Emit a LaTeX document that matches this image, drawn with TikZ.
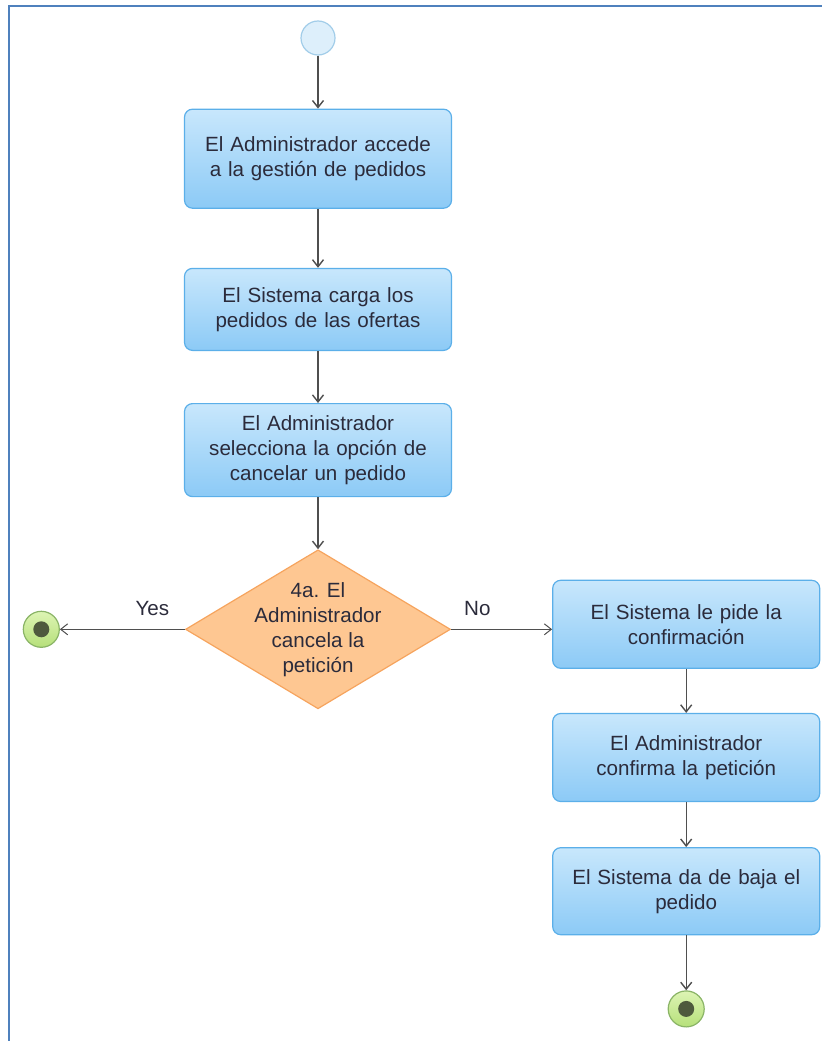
\documentclass[tikz,border=0pt]{standalone}
\usepackage{fontspec}
\setmainfont{Liberation Sans}
\usetikzlibrary{arrows.meta,positioning,shapes.geometric}

\definecolor{boxtop}{HTML}{C8E7FC}
\definecolor{boxbot}{HTML}{8CCAF6}
\definecolor{boxline}{HTML}{5BAFE9}
\definecolor{diafill}{HTML}{FEC792}
\definecolor{dialine}{HTML}{F6A45E}
\definecolor{startfill}{HTML}{DDEFFB}
\definecolor{startline}{HTML}{A2CDE9}
\definecolor{endtop}{HTML}{DDF4B4}
\definecolor{endbot}{HTML}{B6E07A}
\definecolor{endline}{HTML}{8AB466}
\definecolor{enddotc}{HTML}{4E5A3D}
\definecolor{flowgray}{HTML}{4F4F4F}
\definecolor{txt}{HTML}{2B2B3B}
\definecolor{frame}{HTML}{4F81BD}

\begin{document}
\begin{tikzpicture}[x=1pt, y=1pt,
      node distance=52pt and 101pt,
      txtfont/.style={font=\fontsize{20.6}{25}\selectfont, text=txt},
      box/.style={draw=boxline, line width=1.2pt, rounded corners=8pt,
                  top color=boxtop, bottom color=boxbot, align=center,
                  text width=245pt, inner xsep=11pt, txtfont},
      decision/.style={diamond, draw=dialine, fill=diafill, line width=1.2pt,
                  minimum width=265pt, minimum height=159pt, inner sep=0pt},
      startdot/.style={circle, draw=startline, fill=startfill, line width=1.2pt,
                  minimum size=34pt, inner sep=0pt},
      enddot/.style={circle, draw=endline, line width=1.2pt, top color=endtop,
                  bottom color=endbot, minimum size=36pt, inner sep=0pt,
                  path picture={\fill[enddotc] (path picture bounding box.center) circle (8pt);}},
      flow/.style={draw=flowgray, line width=1.4pt, -{Straight Barb[length=7pt,width=11pt]}},
      lbl/.style={txtfont, above, inner sep=4pt, yshift=9pt}]
    \useasboundingbox (0,0) rectangle (822,-1041);
    \draw[frame, line width=2pt] (9,-1041) -- (9,-6) -- (822,-6);
    % main column
    \node[startdot] (start) at (318,-38) {};
    \node[box, minimum height=99pt, below=53pt of start] (access) {El Administrador accede\\a la gestión de pedidos};
    \node[box, minimum height=82pt, below=59pt of access] (load) {El Sistema carga los\\pedidos de las ofertas};
    \node[box, minimum height=93pt, below=of load] (select) {El Administrador\\selecciona la opción de\\cancelar un pedido};
    \node[decision, below=of select,
          label={[txtfont, align=center]center:4a. El\\Administrador\\cancela la\\petición}] (cancel) {};
    \node[enddot, left=125pt of cancel] (endyes) {};
    % right column
    \node[box, minimum height=88pt, right=of cancel, yshift=5pt] (confirmreq) {El Sistema le pide la\\confirmación};
    \node[box, minimum height=88pt, below=44pt of confirmreq] (confirm) {El Administrador\\confirma la petición};
    \node[box, minimum height=87pt, below=45pt of confirm] (remove) {El Sistema da de baja el\\pedido};
    \node[enddot, below=55pt of remove] (endno) {};
    % connectors
    \draw[flow] (start) -- (access);
    \draw[flow] (access) -- (load);
    \draw[flow] (load) -- (select);
    \draw[flow] (select) -- (cancel);
    \draw[flow, line width=1pt] (cancel.west) -- node[lbl, pos=0.26] {Yes} (endyes);
    \draw[flow, line width=1pt] (cancel.east) -- node[lbl, pos=0.26] {No} (cancel.east -| confirmreq.west);
    \draw[flow] (confirmreq) -- (confirm);
    \draw[flow] (confirm) -- (remove);
    \draw[flow] (remove) -- (endno);
  \end{tikzpicture}
\end{document}
